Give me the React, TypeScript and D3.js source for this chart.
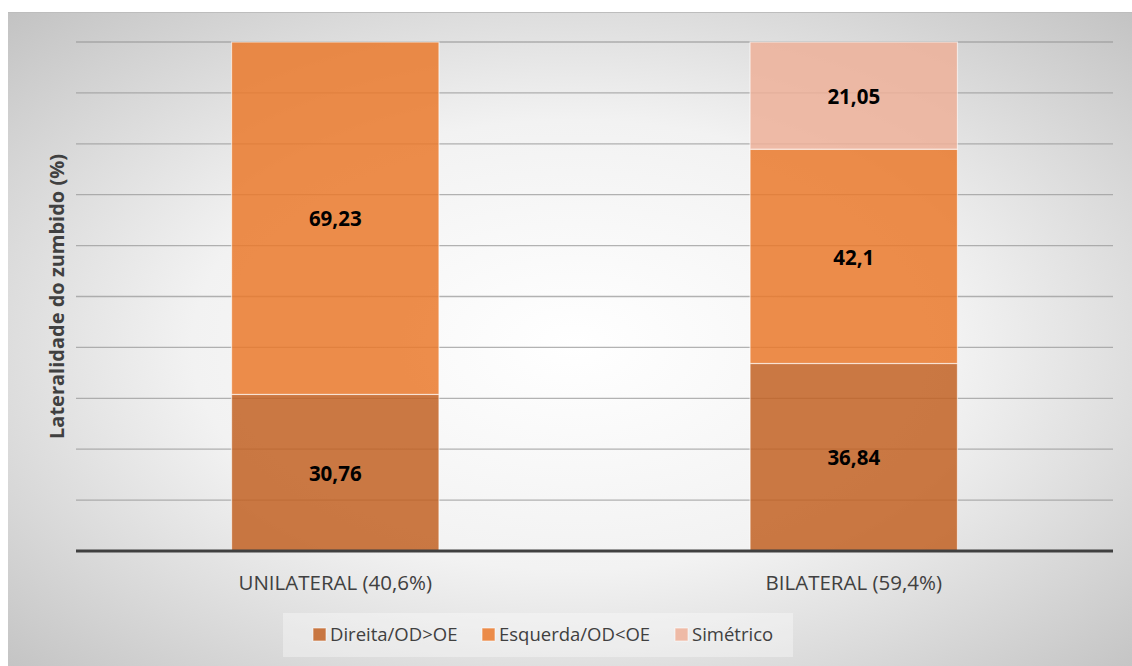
import React from "react";
import * as d3 from "d3";

const categories = ["UNILATERAL (40,6%)", "BILATERAL (59,4%)"];
const seriesNames = ["Direita/OD>OE", "Esquerda/OD<OE", "Simétrico"];
const direita = [30.76, 36.84];
const esquerda = [69.23, 42.1];
const simetrico = [0, 21.05];
const valueLabels = [["30,76", "36,84"], ["69,23", "42,1"], ["", "21,05"]];
const yTicks = [0, 10, 20, 30, 40, 50, 60, 70, 80, 90, 100];
const colors = ["#C26123", "#EA792B", "#EDB099"];

const W = 1132;
const H = 666;
const plot = { left: 76, right: 1113, top: 42, bottom: 551 };

export default function App() {
  const x = d3
    .scaleBand<string>()
    .domain(categories)
    .range([plot.left, plot.right])
    .paddingInner(0.6)
    .paddingOuter(0.3);
  const y = d3.scaleLinear().domain([0, 100]).range([plot.bottom, plot.top]);

  const rows = categories.map((c, i) => ({
    cat: c,
    s0: direita[i],
    s1: esquerda[i],
    s2: simetrico[i],
  }));
  const stack = d3.stack<any>().keys(["s0", "s1", "s2"]);
  const layers = stack(rows);

  const font = "'Open Sans', 'DejaVu Sans', sans-serif";

  return (
    <svg
      width={W}
      height={H}
      style={{ position: "absolute", left: 0, top: 0 }}
      fontFamily={font}
    >
      <defs>
        <radialGradient id="bg" cx="50%" cy="50%" r="75%">
          <stop offset="0" stopColor="#ffffff" />
          <stop offset="0.45" stopColor="#f2f2f2" />
          <stop offset="1" stopColor="#bdbdbd" />
        </radialGradient>
      </defs>
      <rect x={0} y={0} width={W} height={H} fill="#ffffff" />
      <rect x={8} y={12} width={W} height={H} fill="url(#bg)" />
      <line x1={8} x2={W} y1={12.5} y2={12.5} stroke="#bdbdbd" strokeWidth={1} />

      {/* gridlines */}
      {yTicks.slice(1).map((t) => (
        <line
          key={t}
          x1={plot.left}
          x2={plot.right}
          y1={y(t)}
          y2={y(t)}
          stroke="#9a9a9a"
          strokeOpacity={0.75}
          strokeWidth={1.3}
        />
      ))}

      {/* stacked bars */}
      {layers.map((layer, li) =>
        layer.map((d, i) => {
          const h = y(d[0]) - y(d[1]);
          if (h <= 0) return null;
          return (
            <rect
              key={`${li}-${i}`}
              x={x(categories[i])!}
              y={y(d[1])}
              width={x.bandwidth()}
              height={h}
              fill={colors[li]}
              fillOpacity={0.85}
              stroke="#ffffff"
              strokeOpacity={0.6}
              strokeWidth={1.2}
            />
          );
        })
      )}

      {/* value labels */}
      {layers.map((layer, li) =>
        layer.map((d, i) => {
          const txt = valueLabels[li][i];
          if (!txt) return null;
          return (
            <text
              key={`l-${li}-${i}`}
              x={x(categories[i])! + x.bandwidth() / 2}
              y={(y(d[0]) + y(d[1])) / 2 + 1}
              dy="0.35em"
              textAnchor="middle"
              fontSize={20.5}
              fontWeight={700}
              fill="#000"
            >
              {txt}
            </text>
          );
        })
      )}

      {/* baseline */}
      <line
        x1={plot.left}
        x2={plot.right}
        y1={y(0)}
        y2={y(0)}
        stroke="#404040"
        strokeWidth={3}
      />

      {/* category labels */}
      {categories.map((c) => (
        <text
          key={c}
          x={x(c)! + x.bandwidth() / 2}
          y={583}
          dy="0.35em"
          textAnchor="middle"
          fontSize={20.5}
          fill="#404040"
        >
          {c}
        </text>
      ))}

      {/* y-axis title */}
      <text
        transform={`translate(57, ${(plot.top + plot.bottom) / 2}) rotate(-90)`}
        textAnchor="middle"
        dy="0.35em"
        fontSize={20}
        fontWeight={700}
        fill="#404040"
      >
        Lateralidade do zumbido (%)
      </text>

      {/* legend */}
      <rect x={283} y={613} width={510} height={44} fill="#ffffff" fillOpacity={0.35} />
      {seriesNames.map((s, i) => {
        const lx = [313, 482, 675][i];
        return (
          <g key={s}>
            <rect x={lx} y={628} width={13} height={13} fill={colors[i]} fillOpacity={0.85} stroke="#fff" strokeOpacity={0.6} />
            <text x={lx + 17} y={635} dy="0.35em" fontSize={18.5} fill="#404040">
              {s}
            </text>
          </g>
        );
      })}
    </svg>
  );
}
